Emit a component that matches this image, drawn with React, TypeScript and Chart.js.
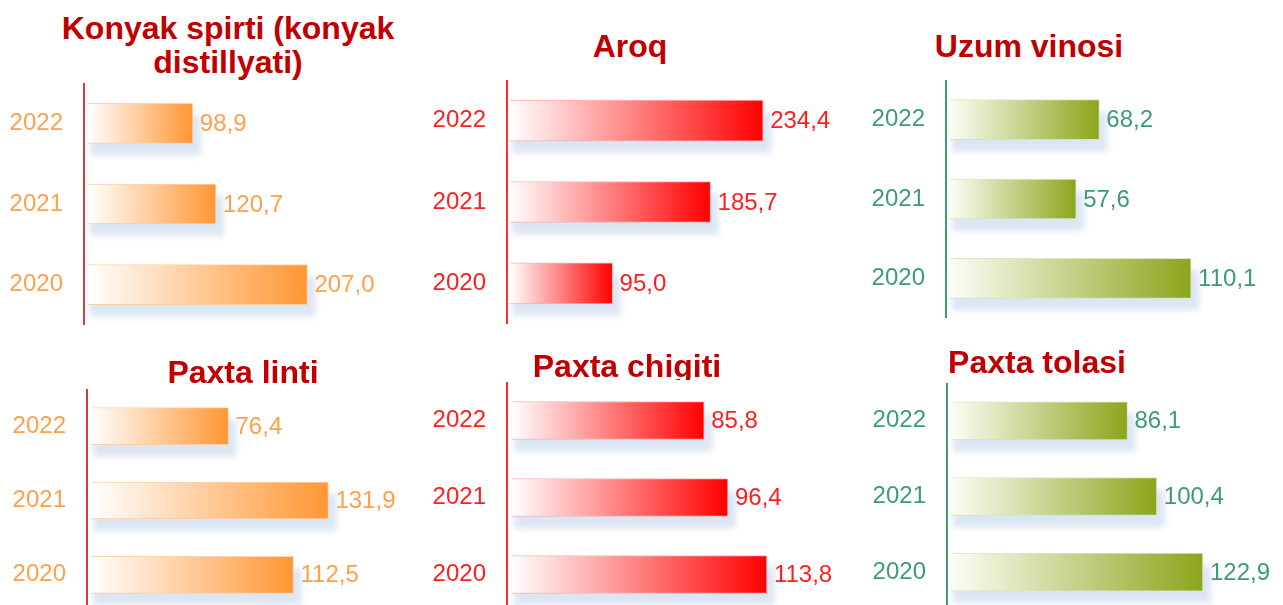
import React, { useEffect, useRef } from "react";
import { Chart, registerables } from "chart.js";

Chart.register(...registerables);

// ---- data ----
const years = ["2022", "2021", "2020"];
const konyakValues = [98.9, 120.7, 207.0];
const aroqValues = [234.4, 185.7, 95.0];
const uzumValues = [68.2, 57.6, 110.1];
const lintValues = [76.4, 131.9, 112.5];
const chigitValues = [85.8, 96.4, 113.8];
const tolaValues = [86.1, 100.4, 122.9];

const FONT = "'Liberation Sans', Arial, sans-serif";

type Theme = { start: string; end: string; border: string; text: string; axis: string };
const orange: Theme = { start: "#FFFFFF", end: "#FF9633", border: "rgba(255,200,150,0.8)", text: "#FFA04A", axis: "#D23C3C" };
const red: Theme = { start: "#FFFFFF", end: "#FF0000", border: "rgba(255,160,160,0.8)", text: "#FF1E1E", axis: "#FF2A2A" };
const olive: Theme = { start: "#FDFDF6", end: "#8CA51C", border: "rgba(215,222,180,0.8)", text: "#3C9C76", axis: "#3F9B6E" };

type PanelCfg = {
  values: number[];
  theme: Theme;
  canvasLeft: number;
  axisX: number;
  right: number;
  areaTop: number;
  areaBottom: number;
  ppu: number;
  gap: number;
  bar: number;
};

const panels: PanelCfg[] = [
  { values: konyakValues, theme: orange, canvasLeft: 0, axisX: 84, right: 415, areaTop: 83, areaBottom: 325, ppu: 1.06, gap: 4, bar: 40 },
  { values: aroqValues, theme: red, canvasLeft: 420, axisX: 507, right: 850, areaTop: 80, areaBottom: 324, ppu: 1.08, gap: 3, bar: 41 },
  { values: uzumValues, theme: olive, canvasLeft: 860, axisX: 946, right: 1283, areaTop: 80, areaBottom: 318, ppu: 2.19, gap: 4, bar: 40 },
  { values: lintValues, theme: orange, canvasLeft: 0, axisX: 87, right: 415, areaTop: 389, areaBottom: 612, ppu: 1.8, gap: 4, bar: 37 },
  { values: chigitValues, theme: red, canvasLeft: 420, axisX: 507, right: 850, areaTop: 382, areaBottom: 613, ppu: 2.24, gap: 5, bar: 38 },
  { values: tolaValues, theme: olive, canvasLeft: 860, axisX: 947, right: 1283, areaTop: 383, areaBottom: 610, ppu: 2.05, gap: 4, bar: 38 },
];

type TitleCfg = { lines: string[]; center: number; top: number; clipBottom?: number };
const titles: TitleCfg[] = [
  { lines: ["Konyak spirti (konyak", "distillyati)"], center: 228, top: 11 },
  { lines: ["Aroq"], center: 630, top: 29 },
  { lines: ["Uzum vinosi"], center: 1029, top: 29 },
  { lines: ["Paxta linti"], center: 243, top: 355 },
  { lines: ["Paxta chigiti"], center: 627, top: 349, clipBottom: 380 },
  { lines: ["Paxta tolasi"], center: 1037, top: 345 },
];

const fmt = (v: number) => v.toFixed(1).replace(".", ",");

function Panel({ cfg }: { cfg: PanelCfg }) {
  const ref = useRef<HTMLCanvasElement | null>(null);
  const width = cfg.right - cfg.canvasLeft;
  const height = cfg.areaBottom - cfg.areaTop;

  useEffect(() => {
    if (!ref.current) return;
    const t = cfg.theme;
    const xMin = -cfg.gap / cfg.ppu;
    const xMax = (cfg.right - cfg.axisX) / cfg.ppu + xMin;

    const shadowPlugin = {
      id: "barShadow",
      beforeDatasetsDraw(chart: any) {
        const ctx = chart.ctx as CanvasRenderingContext2D;
        const meta = chart.getDatasetMeta(0);
        ctx.save();
        ctx.filter = "blur(3px)";
        ctx.fillStyle = "rgba(214,226,241,0.85)";
        meta.data.forEach((b: any) => {
          const p = b.getProps(["x", "y", "base", "height"], true);
          ctx.fillRect(p.base + 2, p.y - p.height / 2 + 12, p.x - p.base + 6, p.height);
        });
        ctx.restore();
      },
    };

    const labelPlugin = {
      id: "valueLabels",
      afterDatasetsDraw(chart: any) {
        const ctx = chart.ctx as CanvasRenderingContext2D;
        const meta = chart.getDatasetMeta(0);
        const data = chart.data.datasets[0].data as number[];
        ctx.save();
        ctx.font = `24px ${FONT}`;
        ctx.fillStyle = t.text;
        ctx.textAlign = "left";
        ctx.textBaseline = "middle";
        meta.data.forEach((b: any, i: number) => {
          ctx.fillText(fmt(data[i]), b.x + 7, b.y + 1);
        });
        ctx.restore();
      },
    };

    const chart = new Chart(ref.current, {
      type: "bar",
      data: {
        labels: years,
        datasets: [
          {
            data: cfg.values,
            backgroundColor: (c: any) => {
              const ch = c.chart;
              const xs = ch.scales?.x;
              if (!xs || !ch.chartArea || typeof c.raw !== "number") return t.end;
              const x0 = xs.getPixelForValue(0);
              const x1 = xs.getPixelForValue(c.raw);
              if (!isFinite(x0) || !isFinite(x1) || x1 === x0) return t.end;
              const g = ch.ctx.createLinearGradient(x0, 0, x1, 0);
              g.addColorStop(0, t.start);
              g.addColorStop(1, t.end);
              return g;
            },
            borderColor: t.border,
            borderWidth: 1,
            borderSkipped: "start",
            barThickness: cfg.bar,
          },
        ],
      },
      options: {
        indexAxis: "y",
        responsive: false,
        maintainAspectRatio: false,
        animation: false,
        layout: { padding: 0 },
        plugins: {
          legend: { display: false },
          tooltip: { enabled: false },
          title: { display: false },
        },
        scales: {
          x: { display: false, min: xMin, max: xMax },
          y: {
            grid: { display: false, drawTicks: false },
            border: { display: true, color: t.axis, width: 2 },
            ticks: { color: t.text, font: { size: 24, family: FONT }, padding: 21 },
            afterFit: (s: any) => {
              s.width = cfg.axisX - cfg.canvasLeft;
              s.paddingTop = 0;
              s.paddingBottom = 0;
            },
          },
        },
      },
      plugins: [shadowPlugin, labelPlugin],
    } as any);

    return () => chart.destroy();
  }, [cfg]);

  return (
    <canvas
      ref={ref}
      width={width}
      height={height}
      style={{ position: "absolute", left: cfg.canvasLeft, top: cfg.areaTop, width, height }}
    />
  );
}

export default function App() {
  return (
    <div
      style={{
        position: "absolute",
        left: 0,
        top: 0,
        width: 1283,
        height: 605,
        overflow: "hidden",
        background: "#FFFFFF",
      }}
    >
      {titles.map((tt, i) => (
        <div
          key={"t" + i}
          style={{
            position: "absolute",
            left: tt.center - 250,
            top: tt.top,
            width: 500,
            height: tt.clipBottom ? tt.clipBottom - tt.top : undefined,
            overflow: tt.clipBottom ? "hidden" : "visible",
            textAlign: "center",
            whiteSpace: "nowrap",
            fontFamily: FONT,
            fontWeight: "bold",
            fontSize: 32,
            lineHeight: "34px",
            color: "#C00000",
            zIndex: 2,
          }}
        >
          {tt.lines.map((l, j) => (
            <div key={j}>{l}</div>
          ))}
        </div>
      ))}
      {panels.map((p, i) => (
        <Panel key={"p" + i} cfg={p} />
      ))}
    </div>
  );
}
